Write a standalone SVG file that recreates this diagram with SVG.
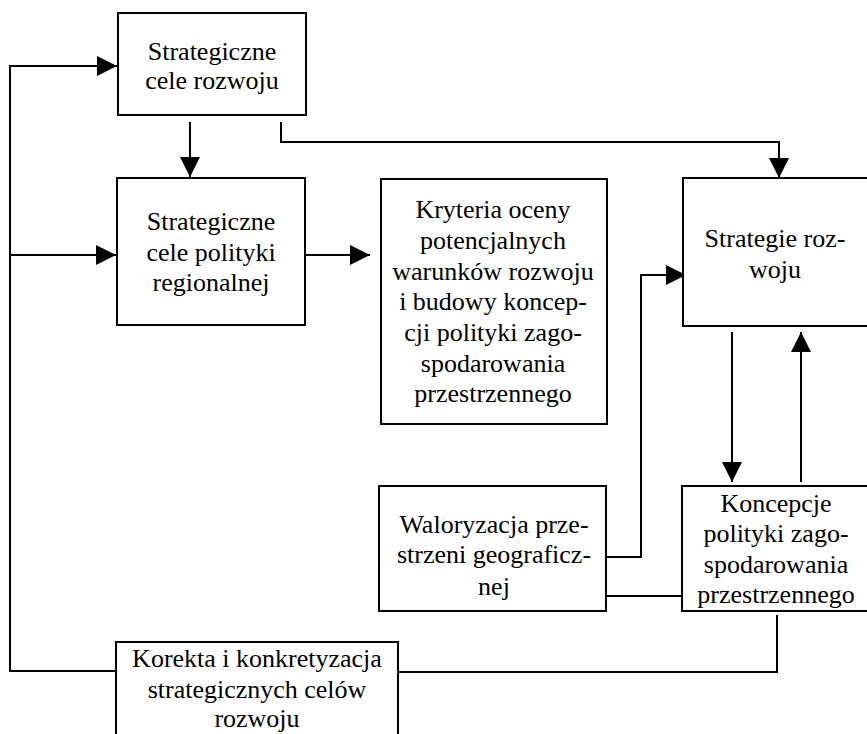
<svg xmlns="http://www.w3.org/2000/svg" width="867" height="734" viewBox="0 0 867 734">
<style>
.box{fill:#fff;stroke:#000;stroke-width:2}
.t{font-family:"Liberation Serif","Times New Roman",serif;font-size:26px;fill:#000;text-anchor:middle}
.ln{fill:none;stroke:#000;stroke-width:2}
</style>
<defs>
<marker id="ah" viewBox="0 0 20 20" refX="20" refY="10" markerWidth="20" markerHeight="20" markerUnits="userSpaceOnUse" orient="auto">
<path d="M0,0 L20,10 L0,20 Z" fill="#000"/>
</marker>
</defs>
<rect width="867" height="734" fill="#fff"/>
<g id="connectors">
<path class="ln" d="M116,671 H10 V66 H117" marker-end="url(#ah)"/>
<path class="ln" d="M10,255 H116" marker-end="url(#ah)"/>
<path class="ln" d="M190,122 V177" marker-end="url(#ah)"/>
<path class="ln" d="M281,122 V142 H779 V178" marker-end="url(#ah)"/>
<path class="ln" d="M302,255 H370" marker-end="url(#ah)"/>
<path class="ln" d="M594,557 H641 V275 H686" marker-end="url(#ah)"/>
<path class="ln" d="M732,332 V482" marker-end="url(#ah)"/>
<path class="ln" d="M801,482 V332" marker-end="url(#ah)"/>
<path class="ln" d="M594,596 H688"/>
<path class="ln" d="M777,615 V672 H398"/>
</g>
<g id="n1">
<rect class="box" x="118" y="13" width="188" height="102"/>
<text class="t" x="212" y="60">Strategiczne</text>
<text class="t" x="212" y="89">cele rozwoju</text>
</g>
<g id="n2">
<rect class="box" x="117" y="178" width="188" height="147"/>
<text class="t" x="211" y="230">Strategiczne</text>
<text class="t" x="211" y="261">cele polityki</text>
<text class="t" x="211" y="291">regionalnej</text>
</g>
<g id="n3">
<rect class="box" x="381" y="179" width="226" height="245"/>
<text class="t" x="493" y="218">Kryteria oceny</text>
<text class="t" x="493" y="249">potencjalnych</text>
<text class="t" x="493" y="280">warunków rozwoju</text>
<text class="t" x="493" y="310">i budowy koncep-</text>
<text class="t" x="493" y="341">cji polityki zago-</text>
<text class="t" x="493" y="372">spodarowania</text>
<text class="t" x="493" y="402">przestrzennego</text>
</g>
<g id="n4">
<rect class="box" x="683" y="178" width="190" height="148"/>
<text class="t" x="775" y="247">Strategie roz-</text>
<text class="t" x="775" y="278">woju</text>
</g>
<g id="n5">
<rect class="box" x="379" y="486" width="227" height="125"/>
<text class="t" x="494" y="533">Waloryzacja prze-</text>
<text class="t" x="494" y="563">strzeni geograficz-</text>
<text class="t" x="494" y="595">nej</text>
</g>
<g id="n6">
<rect class="box" x="682" y="486" width="191" height="125" fill="none"/>
<text class="t" x="776" y="512">Koncepcje</text>
<text class="t" x="776" y="542">polityki zago-</text>
<text class="t" x="776" y="573">spodarowania</text>
<text class="t" x="776" y="603">przestrzennego</text>
</g>
<g id="n7">
<rect class="box" x="116" y="642" width="282" height="100"/>
<text class="t" x="257" y="667">Korekta i konkretyzacja</text>
<text class="t" x="257" y="698">strategicznych celów</text>
<text class="t" x="257" y="727">rozwoju</text>
</g>
</svg>
